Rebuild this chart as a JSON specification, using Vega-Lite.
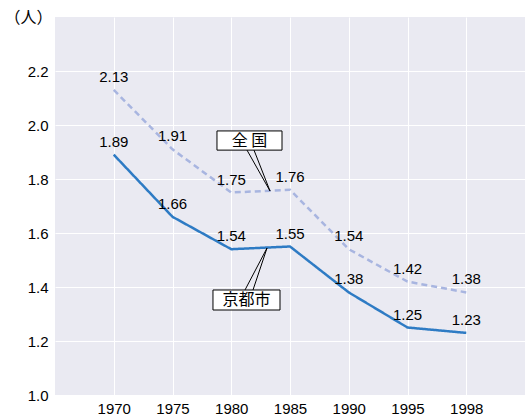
{
  "$schema": "https://vega.github.io/schema/vega-lite/v6.json",
  "width": 470,
  "height": 378,
  "autosize": "none",
  "padding": {"left": 55, "top": 17, "right": 0, "bottom": 22},
  "background": "white",
  "config": {
    "font": "Liberation Sans",
    "view": {"fill": "#eaeaf2", "stroke": null},
    "axis": {"grid": true, "gridColor": "white", "gridWidth": 1, "domain": false, "ticks": false, "labelFont": "Liberation Sans", "labelFontSize": 15, "labelColor": "black"}
  },
  "datasets": {
    "main": [
      {"pos": 0, "year": "1970", "series": "全国", "value": 2.13},
      {"pos": 1, "year": "1975", "series": "全国", "value": 1.91},
      {"pos": 2, "year": "1980", "series": "全国", "value": 1.75},
      {"pos": 3, "year": "1985", "series": "全国", "value": 1.76},
      {"pos": 4, "year": "1990", "series": "全国", "value": 1.54},
      {"pos": 5, "year": "1995", "series": "全国", "value": 1.42},
      {"pos": 6, "year": "1998", "series": "全国", "value": 1.38},
      {"pos": 0, "year": "1970", "series": "京都市", "value": 1.89},
      {"pos": 1, "year": "1975", "series": "京都市", "value": 1.66},
      {"pos": 2, "year": "1980", "series": "京都市", "value": 1.54},
      {"pos": 3, "year": "1985", "series": "京都市", "value": 1.55},
      {"pos": 4, "year": "1990", "series": "京都市", "value": 1.38},
      {"pos": 5, "year": "1995", "series": "京都市", "value": 1.25},
      {"pos": 6, "year": "1998", "series": "京都市", "value": 1.23}
    ],
    "boxes": [
      {"label": "全 国", "x1": 1.757, "x2": 2.864, "y1": 1.907, "y2": 1.978, "xc": 2.31, "yc": 1.9425},
      {"label": "京都市", "x1": 1.689, "x2": 2.83, "y1": 1.3148, "y2": 1.3889, "xc": 2.26, "yc": 1.3518}
    ],
    "leaders": [
      {"x1": 2.268, "y1": 1.907, "x2": 2.66, "y2": 1.7556},
      {"x1": 2.387, "y1": 1.907, "x2": 2.66, "y2": 1.7556},
      {"x1": 2.234, "y1": 1.3889, "x2": 2.609, "y2": 1.5444},
      {"x1": 2.37, "y1": 1.3889, "x2": 2.609, "y2": 1.5444}
    ]
  },
  "layer": [
    {
      "data": {"name": "main"},
      "mark": {"type": "line", "strokeWidth": 2.5},
      "encoding": {
        "x": {"field": "pos", "type": "quantitative", "scale": {"domain": [-1, 7], "nice": false}, "axis": {"values": [0, 1, 2, 3, 4, 5, 6], "labelExpr": "['1970','1975','1980','1985','1990','1995','1998'][datum.value]", "title": null, "labelPadding": 6}},
        "y": {"field": "value", "type": "quantitative", "scale": {"domain": [1, 2.4], "nice": false, "zero": false}, "axis": {"values": [1.0, 1.2, 1.4, 1.6, 1.8, 2.0, 2.2], "format": ".1f", "labelPadding": 7, "title": "（人）", "titleAngle": 0, "titleAlign": "right", "titleBaseline": "middle", "titleX": -3, "titleY": 0, "titleFontSize": 16, "titleFontWeight": "normal", "titleFont": "Noto Sans CJK JP", "titleColor": "black"}},
        "color": {"field": "series", "type": "nominal", "scale": {"domain": ["全国", "京都市"], "range": ["#a8b5e0", "#2e7bc4"]}, "legend": null},
        "strokeDash": {"field": "series", "type": "nominal", "scale": {"domain": ["全国", "京都市"], "range": [[6, 4], [1, 0]]}, "legend": null}
      }
    },
    {
      "data": {"name": "main"},
      "mark": {"type": "text", "baseline": "bottom", "dy": -5, "fontSize": 15, "color": "black"},
      "encoding": {
        "x": {"field": "pos", "type": "quantitative"},
        "y": {"field": "value", "type": "quantitative"},
        "text": {"field": "value", "type": "quantitative", "format": ".2f"}
      }
    },
    {
      "data": {"name": "leaders"},
      "mark": {"type": "rule", "color": "black", "strokeWidth": 1},
      "encoding": {
        "x": {"field": "x1", "type": "quantitative"},
        "x2": {"field": "x2"},
        "y": {"field": "y1", "type": "quantitative"},
        "y2": {"field": "y2"}
      }
    },
    {
      "data": {"name": "boxes"},
      "mark": {"type": "rect", "fill": "white", "stroke": "black", "strokeWidth": 1},
      "encoding": {
        "x": {"field": "x1", "type": "quantitative"},
        "x2": {"field": "x2"},
        "y": {"field": "y1", "type": "quantitative"},
        "y2": {"field": "y2"}
      }
    },
    {
      "data": {"name": "boxes"},
      "mark": {"type": "text", "fontSize": 16, "font": "Noto Sans CJK JP", "color": "black", "baseline": "middle"},
      "encoding": {
        "x": {"field": "xc", "type": "quantitative"},
        "y": {"field": "yc", "type": "quantitative"},
        "text": {"field": "label"}
      }
    }
  ]
}
